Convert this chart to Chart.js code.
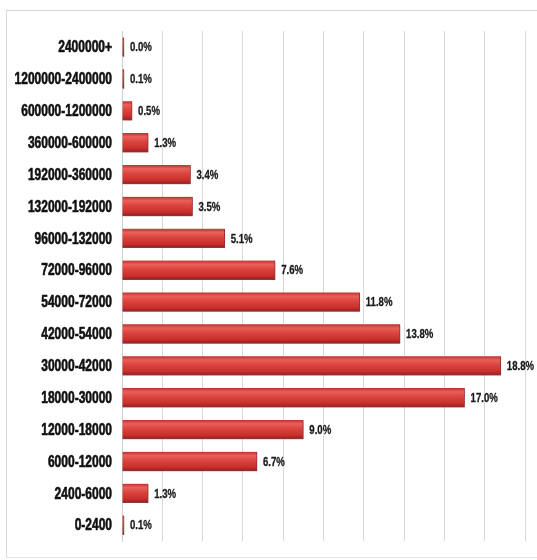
<!DOCTYPE html>
<html>
<head>
<meta charset="utf-8">
<script src="https://cdn.jsdelivr.net/npm/chart.js@4.4.1/dist/chart.umd.min.js"></script>
<style>
  html, body { margin: 0; padding: 0; background: #fff; }
  #wrap { position: relative; width: 537px; height: 560px; }
  #frame {
    position: absolute; left: 6px; top: 10px; width: 540px; height: 546px;
    border-top: 1px solid #d4d4d4; border-left: 1px solid #dcdcdc; border-bottom: 1px solid #e2e2e2;
    pointer-events: none;
  }
  canvas { position: absolute; left: 0; top: 0; }
</style>
</head>
<body>
<div id="wrap">
  <div id="frame"></div>
  <canvas id="chart" width="537" height="560"></canvas>
</div>
<script>
// income bands, top to bottom
const bands = [
  '2400000+', '1200000-2400000', '600000-1200000', '360000-600000',
  '192000-360000', '132000-192000', '96000-132000', '72000-96000',
  '54000-72000', '42000-54000', '30000-42000', '18000-30000',
  '12000-18000', '6000-12000', '2400-6000', '0-2400'
];
// share of people in each band, percent
const shares = [0.0, 0.1, 0.5, 1.3, 3.4, 3.5, 5.1, 7.6, 11.8, 13.8, 18.8, 17.0, 9.0, 6.7, 1.3, 0.1];

const labelFont = '"Liberation Sans", Arial, sans-serif';

// red bar with a rounded, lit-from-above look
function barFill(context) {
  const chart = context.chart;
  if (!chart.chartArea || !chart.scales.y) return '#d63b38';
  const yc = chart.scales.y.getPixelForValue(context.dataIndex);
  const g = chart.ctx.createLinearGradient(0, yc - 9.5, 0, yc + 9.5);
  g.addColorStop(0, '#c22f2c');
  g.addColorStop(0.2, '#e8615b');
  g.addColorStop(0.45, '#dc4440');
  g.addColorStop(0.8, '#c9302d');
  g.addColorStop(1, '#941d1c');
  return g;
}

const barShadow = {
  id: 'barShadow',
  beforeDatasetDraw(chart) {
    const ctx = chart.ctx;
    ctx.save();
    ctx.shadowColor = 'rgba(90, 90, 110, 0.45)';
    ctx.shadowOffsetY = 2;
    ctx.shadowBlur = 2;
  },
  afterDatasetDraw(chart) {
    chart.ctx.restore();
  }
};

// draw narrow, heavy text: squeeze horizontally around the anchor point
function narrowText(ctx, text, x, y, squeeze) {
  ctx.save();
  ctx.translate(x, y);
  ctx.scale(squeeze, 1);
  ctx.fillText(text, 0, 0);
  ctx.strokeText(text, 0, 0);
  ctx.restore();
}

// band names on the left and percentages past the bar ends
const textLabels = {
  id: 'textLabels',
  afterDatasetsDraw(chart) {
    const ctx = chart.ctx;
    const yScale = chart.scales.y;
    const meta = chart.getDatasetMeta(0);
    ctx.save();
    ctx.textBaseline = 'middle';
    ctx.lineJoin = 'round';

    ctx.font = 'bold 16px ' + labelFont;
    ctx.fillStyle = '#111';
    ctx.strokeStyle = '#111';
    ctx.lineWidth = 0.6;
    ctx.textAlign = 'right';
    bands.forEach((b, i) => {
      narrowText(ctx, b, yScale.right - 10, yScale.getPixelForValue(i) + 1, 0.75);
    });

    ctx.font = 'bold 12px ' + labelFont;
    ctx.fillStyle = '#1a1a1a';
    ctx.strokeStyle = '#1a1a1a';
    ctx.lineWidth = 0.3;
    ctx.textAlign = 'left';
    meta.data.forEach((bar, i) => {
      narrowText(ctx, shares[i].toFixed(1) + '%', bar.x + 6, bar.y + 1, 0.8);
    });
    ctx.restore();
  }
};

new Chart(document.getElementById('chart'), {
  type: 'bar',
  data: {
    labels: bands,
    datasets: [{
      data: shares,
      backgroundColor: barFill,
      borderColor: '#a82523',
      borderWidth: { top: 0, bottom: 1, left: 0, right: 1 },
      barThickness: 19,
      minBarLength: 2
    }]
  },
  options: {
    indexAxis: 'y',
    responsive: false,
    animation: false,
    layout: { padding: { top: 31, bottom: 19, left: 0, right: 12 } },
    plugins: {
      legend: { display: false },
      tooltip: { enabled: false }
    },
    scales: {
      x: {
        min: 0,
        max: 20,
        ticks: { display: false, stepSize: 2 },
        grid: { color: '#d9d9d9', lineWidth: 1, drawTicks: false },
        border: { display: false }
      },
      y: {
        afterFit(scale) { scale.width = 122; },
        ticks: { display: false },
        grid: { display: false, drawTicks: false },
        border: { display: true, color: '#cfcfcf' }
      }
    }
  },
  plugins: [barShadow, textLabels]
});
</script>
</body>
</html>
